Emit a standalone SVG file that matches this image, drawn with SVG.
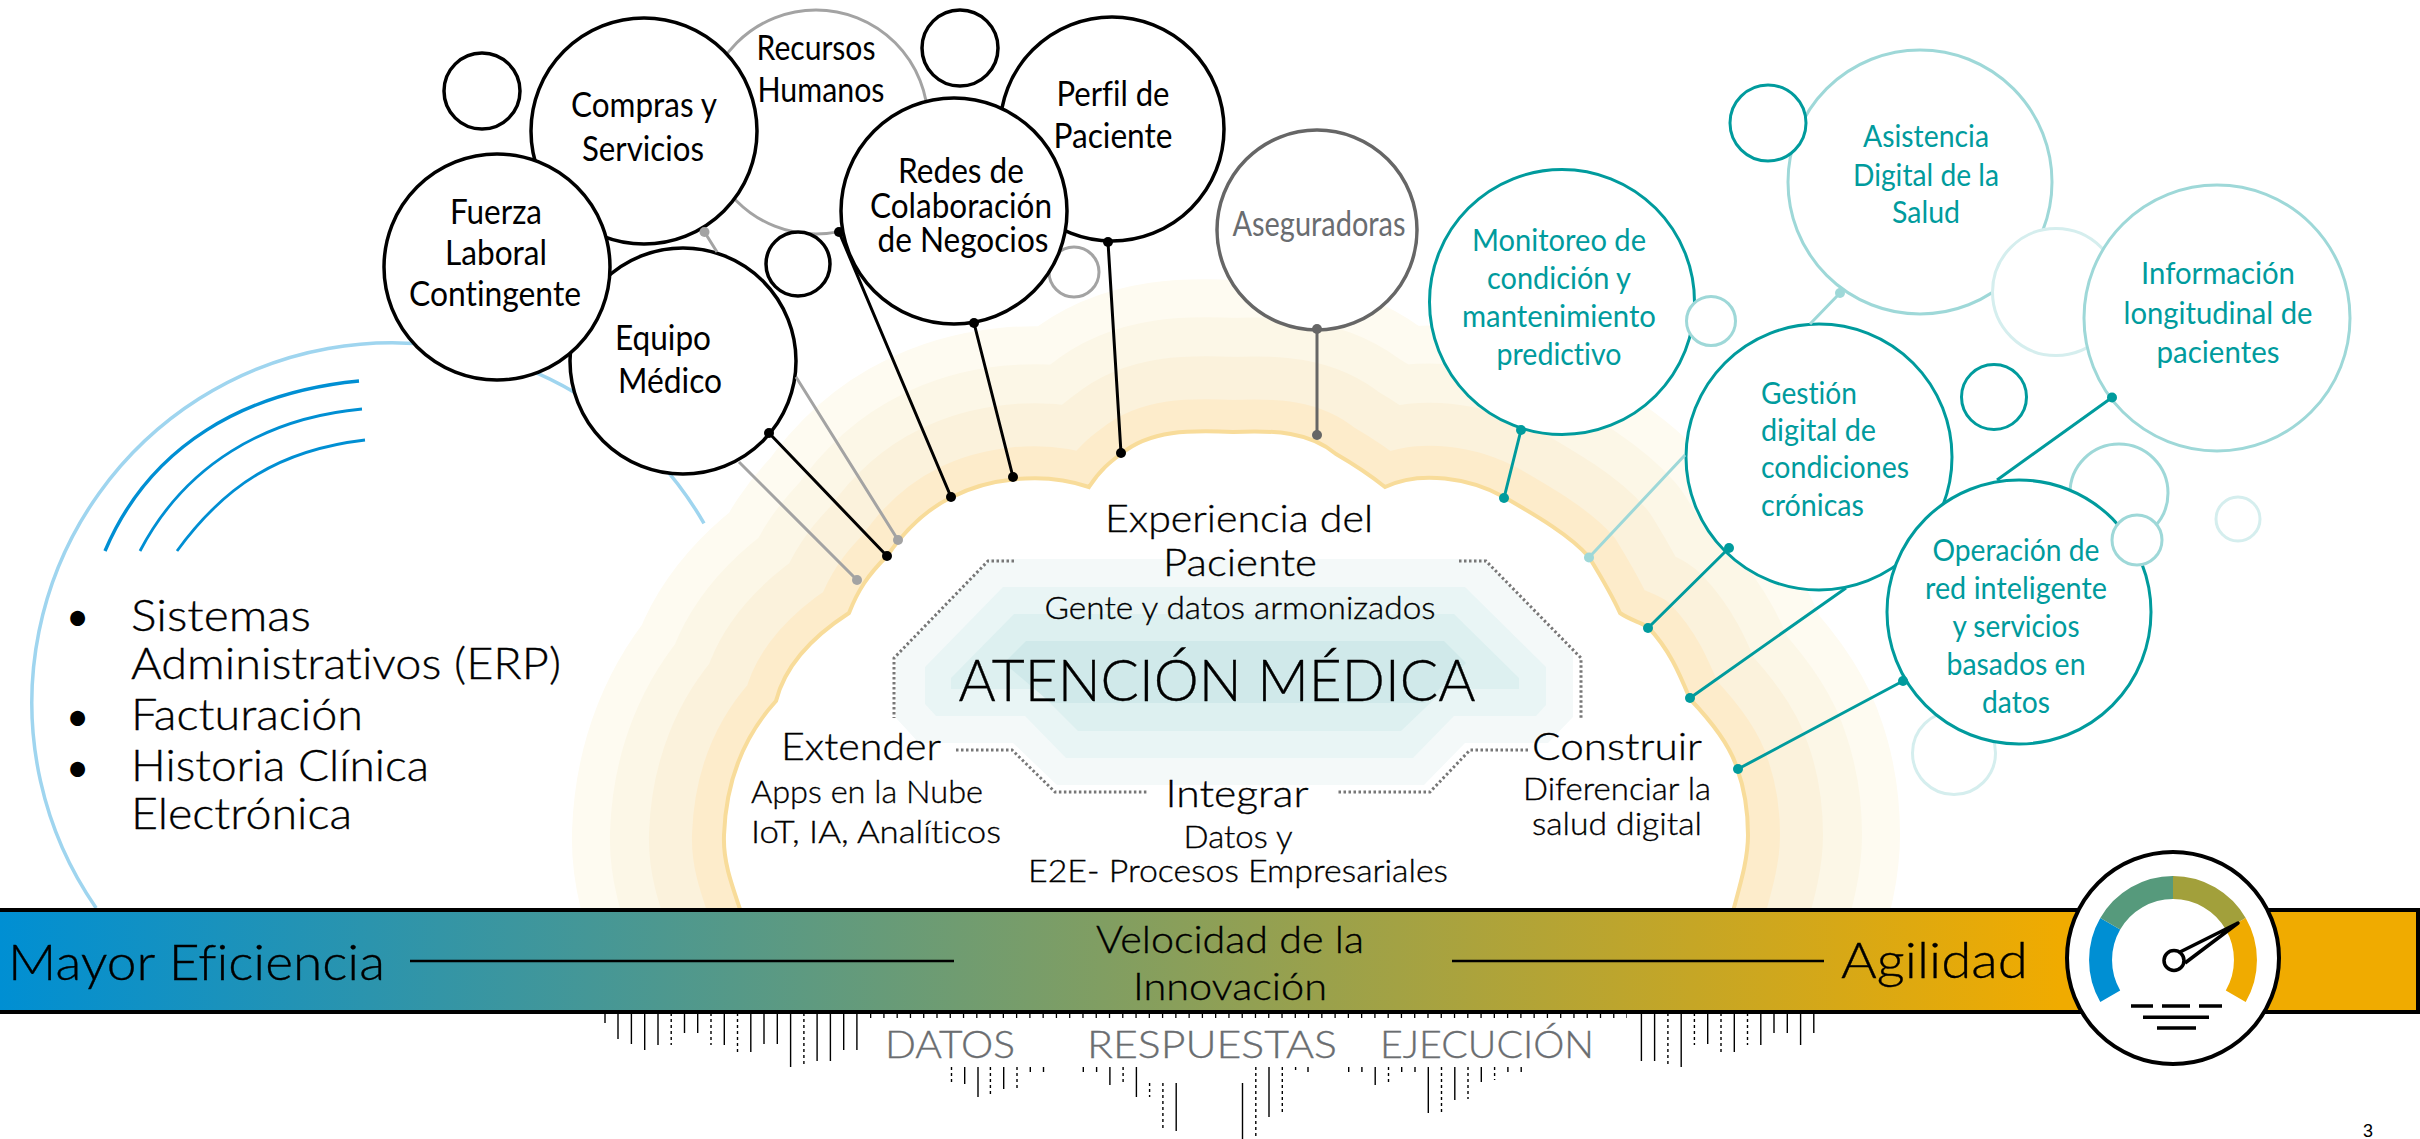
<svg xmlns="http://www.w3.org/2000/svg" width="2420" height="1139" viewBox="0 0 2420 1139">
<style>
text{font-family:"Lato","Noto Sans",sans-serif;font-weight:400;fill:#000;font-variant-ligatures:none}
.m{text-anchor:middle}
.n{font-size:34px}
.t{font-size:31px;fill:#009b9d}
.c{font-size:38px;font-weight:300;stroke:#000;stroke-width:.35}
.s{font-size:31px;font-weight:300;stroke:#000;stroke-width:.35}
.b{font-size:43px;font-weight:300;stroke:#000;stroke-width:.35}
.h{font-weight:300;stroke:#000;stroke-width:.35}
.k{fill:#fff;stroke:#000;stroke-width:3.5}
.g{fill:#fff;stroke:#a3a3a3;stroke-width:3}
.d{fill:#fff;stroke:#009b9d;stroke-width:3}
.l{fill:#fff;stroke:#9ed8d8;stroke-width:3}
.p{fill:#fff;stroke:#d5eeee;stroke-width:3}
.bar{fill:none;stroke:#000;stroke-width:1.4}
.dash{stroke-dasharray:3 3}
.dot{fill:none;stroke:#777;stroke-width:3;stroke-dasharray:2.5 2.5}
.band{fill:none;stroke-linejoin:round}
</style>
<defs>
<linearGradient id="barGrad" gradientUnits="userSpaceOnUse" x1="0" y1="0" x2="2060" y2="0"><stop offset="0" stop-color="#008fd3"/><stop offset="1" stop-color="#f0ab00"/></linearGradient>
<clipPath id="aboveBar"><rect x="0" y="0" width="2420" height="909"/></clipPath>
<path id="cloud" d="M742 915C730 880 723 860 724 835C726 780 745 735 776 701C785 665 815 635 849 613C858 590 868 575 887 556C905 530 925 510 952 497C985 480 1040 470 1089 487C1100 470 1110 462 1121 454C1150 430 1190 430 1233 432C1275 430 1310 432 1336 454C1355 465 1370 475 1385 487C1420 470 1470 478 1504 497C1535 515 1570 535 1589 557C1600 575 1612 595 1620 613C1630 620 1640 622 1648 627C1670 650 1680 675 1690 699C1710 720 1730 745 1737 768C1745 790 1748 815 1748 835C1748 860 1740 885 1732 915"/>
</defs>
<g id="legacy-arc">
<path d="M96.1 908A360 360 0 1 1 704 523.4" fill="none" stroke="#9fd5ef" stroke-width="3.5"/>
<g fill="none" stroke="#008fd3">
<path d="M105 551C150 445 245 392 359 381" stroke-width="3.4"/>
<path d="M140 551C185 465 265 418 362 409" stroke-width="2.8"/>
<path d="M177 551C225 485 280 450 365 440" stroke-width="2.8"/>
</g>
</g>
<g id="legacy-list">
<text x="66" y="631" style="font-size:40px">•</text>
<text x="66" y="731" style="font-size:40px">•</text>
<text x="66" y="782" style="font-size:40px">•</text>
<text class="b" x="131" y="631" textLength="180" lengthAdjust="spacingAndGlyphs">Sistemas</text>
<text class="b" x="131" y="679" textLength="430" lengthAdjust="spacingAndGlyphs">Administrativos (ERP)</text>
<text class="b" x="131" y="730" textLength="232" lengthAdjust="spacingAndGlyphs">Facturación</text>
<text class="b" x="131" y="781" textLength="298" lengthAdjust="spacingAndGlyphs">Historia Clínica</text>
<text class="b" x="131" y="829" textLength="221" lengthAdjust="spacingAndGlyphs">Electrónica</text>
</g>
<g id="cloud-bands" clip-path="url(#aboveBar)">
<use href="#cloud" class="band" stroke="#fefbf1" stroke-width="304"/>
<use href="#cloud" class="band" stroke="#fcf7e7" stroke-width="228"/>
<use href="#cloud" class="band" stroke="#fbf2dc" stroke-width="150"/>
<use href="#cloud" class="band" stroke="#fdeccb" stroke-width="64"/>
<use href="#cloud" fill="#fff" stroke="#f8dc9a" stroke-width="4"/>
</g>
<g id="core">
<polygon fill="#f4f9f9" points="990,559 1484,559 1573,653 1573,717 1548,743 1465,743 1424,785 1057,785 1013,743 919,743 896,718 896,657"/>
<polygon fill="#e9f5f5" points="1003,587 1465,587 1546,667 1546,705 1536,716 1454,716 1413,758 1066,758 1025,716 936,716 925,704 925,667"/>
<polygon fill="#ddf0f0" points="1014,614 1454,614 1519,678 1519,689 1445,689 1401,731 1078,731 1036,689 951,689 951,678"/>
<polygon fill="#d0e9ea" points="1026,641 1444,641 1466,663 1425,703 1051,703 1004,663"/>
<g class="dotted">
<path class="dot" d="M1014 561H988L894 658V718"/>
<path class="dot" d="M1459 561H1486L1581 658V718"/>
<path class="dot" d="M956 750H1012L1055 792H1148"/>
<path class="dot" d="M1528 750H1470L1430 792H1336"/>
</g>
<text class="c m" x="1239" y="532" textLength="268" lengthAdjust="spacingAndGlyphs">Experiencia del</text>
<text class="c m" x="1240" y="576" textLength="154" lengthAdjust="spacingAndGlyphs">Paciente</text>
<text class="s m" x="1240" y="619" textLength="391" lengthAdjust="spacingAndGlyphs">Gente y datos armonizados</text>
<text class="m h" x="1217" y="701" style="font-size:58px" textLength="517" lengthAdjust="spacingAndGlyphs">ATENCIÓN MÉDICA</text>
<text class="c m" x="861" y="760" textLength="160" lengthAdjust="spacingAndGlyphs">Extender</text>
<text class="s" x="751" y="803" textLength="232" lengthAdjust="spacingAndGlyphs">Apps en la Nube</text>
<text class="s" x="751" y="843" textLength="250" lengthAdjust="spacingAndGlyphs">IoT, IA, Analíticos</text>
<text class="c m" x="1237" y="807" textLength="143" lengthAdjust="spacingAndGlyphs">Integrar</text>
<text class="s m" x="1238" y="848" textLength="109" lengthAdjust="spacingAndGlyphs">Datos y</text>
<text class="s m" x="1238" y="882" textLength="420" lengthAdjust="spacingAndGlyphs">E2E- Procesos Empresariales</text>
<text class="c m" x="1617" y="760" textLength="170" lengthAdjust="spacingAndGlyphs">Construir</text>
<text class="s m" x="1617" y="800" textLength="188" lengthAdjust="spacingAndGlyphs">Diferenciar la</text>
<text class="s m" x="1617" y="835" textLength="170" lengthAdjust="spacingAndGlyphs">salud digital</text>
</g>
<g id="node-recursos"><circle class="g" cx="816" cy="122" r="112"/><text class="n m" x="816" y="60" textLength="119" lengthAdjust="spacingAndGlyphs">Recursos</text><text class="n m" x="821" y="102" textLength="127" lengthAdjust="spacingAndGlyphs">Humanos</text></g>
<g id="node-small-a"><circle class="k" cx="482" cy="91" r="38"/></g>
<g id="node-small-b"><circle class="k" cx="960" cy="48" r="38"/></g>
<g id="node-compras"><circle class="k" cx="644" cy="131" r="113"/><text class="n m" x="644" y="117" textLength="146" lengthAdjust="spacingAndGlyphs">Compras y</text><text class="n m" x="643" y="161" textLength="122" lengthAdjust="spacingAndGlyphs">Servicios</text></g>
<g id="node-equipo"><circle class="k" cx="683" cy="361" r="113"/><text class="n m" x="663" y="350" textLength="96" lengthAdjust="spacingAndGlyphs">Equipo</text><text class="n m" x="670" y="393" textLength="104" lengthAdjust="spacingAndGlyphs">Médico</text></g>
<g id="node-fuerza"><circle class="k" cx="497" cy="267" r="113"/><text class="n m" x="496" y="224" textLength="92" lengthAdjust="spacingAndGlyphs">Fuerza</text><text class="n m" x="496" y="265" textLength="102" lengthAdjust="spacingAndGlyphs">Laboral</text><text class="n m" x="495" y="306" textLength="172" lengthAdjust="spacingAndGlyphs">Contingente</text></g>
<g id="node-small-c"><circle class="k" cx="798" cy="264" r="32"/></g>
<g id="node-perfil"><circle class="k" cx="1112" cy="129" r="112"/><text class="n m" x="1113" y="106" textLength="113" lengthAdjust="spacingAndGlyphs">Perfil de</text><text class="n m" x="1113" y="148" textLength="119" lengthAdjust="spacingAndGlyphs">Paciente</text></g>
<g id="node-small-d"><circle class="g" cx="1074" cy="272" r="25"/></g>
<g id="node-redes"><circle class="k" cx="954" cy="211" r="113"/><text class="n m" x="961" y="183" textLength="126" lengthAdjust="spacingAndGlyphs">Redes de</text><text class="n m" x="961" y="218" textLength="182" lengthAdjust="spacingAndGlyphs">Colaboración</text><text class="n m" x="963" y="252" textLength="171" lengthAdjust="spacingAndGlyphs">de Negocios</text></g>
<g id="node-aseguradoras"><circle cx="1317" cy="230" r="100" fill="#fff" stroke="#666" stroke-width="3.5"/><text class="n m" x="1319" y="236" style="fill:#6a6d70" textLength="173" lengthAdjust="spacingAndGlyphs">Aseguradoras</text></g>
<g id="node-pale-a"><circle class="p" cx="1954" cy="753" r="41.5"/></g>
<g id="node-pale-b"><circle class="l" cx="2119" cy="493" r="49"/></g>
<g id="node-pale-c"><circle class="p" cx="2238" cy="519" r="22"/></g>
<g id="node-asistencia"><circle class="l" cx="1920" cy="182" r="132"/><text class="t m" x="1926" y="147" textLength="126" lengthAdjust="spacingAndGlyphs">Asistencia</text><text class="t m" x="1926" y="186" textLength="146" lengthAdjust="spacingAndGlyphs">Digital de la</text><text class="t m" x="1926" y="223" textLength="68" lengthAdjust="spacingAndGlyphs">Salud</text></g>
<g id="node-small-e"><circle class="d" cx="1768" cy="123" r="38"/></g>
<g id="node-pale-d"><circle class="p" cx="2056" cy="292" r="63.5"/></g>
<g id="node-informacion"><circle class="l" cx="2217" cy="318" r="133"/><text class="t m" x="2218" y="284" textLength="154" lengthAdjust="spacingAndGlyphs">Información</text><text class="t m" x="2218" y="324" textLength="189" lengthAdjust="spacingAndGlyphs">longitudinal de</text><text class="t m" x="2218" y="363" textLength="123" lengthAdjust="spacingAndGlyphs">pacientes</text></g>
<g id="node-monitoreo"><circle class="d" cx="1562" cy="302" r="132.5"/><text class="t m" x="1559" y="251" textLength="174" lengthAdjust="spacingAndGlyphs">Monitoreo de</text><text class="t m" x="1559" y="289" textLength="144" lengthAdjust="spacingAndGlyphs">condición y</text><text class="t m" x="1559" y="327" textLength="194" lengthAdjust="spacingAndGlyphs">mantenimiento</text><text class="t m" x="1559" y="365" textLength="125" lengthAdjust="spacingAndGlyphs">predictivo</text></g>
<g id="node-small-f"><circle class="l" cx="1711" cy="321" r="24.5"/></g>
<g id="node-gestion"><circle class="d" cx="1819" cy="457" r="133"/><text class="t" x="1761" y="404" textLength="96" lengthAdjust="spacingAndGlyphs">Gestión</text><text class="t" x="1761" y="441" textLength="115" lengthAdjust="spacingAndGlyphs">digital de</text><text class="t" x="1761" y="478" textLength="148" lengthAdjust="spacingAndGlyphs">condiciones</text><text class="t" x="1761" y="516" textLength="103" lengthAdjust="spacingAndGlyphs">crónicas</text></g>
<g id="node-small-g"><circle class="d" cx="1994" cy="397" r="32.5"/></g>
<g id="node-operacion"><circle class="d" cx="2019" cy="612" r="132"/><text class="t m" x="2016" y="561" textLength="167" lengthAdjust="spacingAndGlyphs">Operación de</text><text class="t m" x="2016" y="599" textLength="182" lengthAdjust="spacingAndGlyphs">red inteligente</text><text class="t m" x="2016" y="637" textLength="127" lengthAdjust="spacingAndGlyphs">y servicios</text><text class="t m" x="2016" y="675" textLength="139" lengthAdjust="spacingAndGlyphs">basados en</text><text class="t m" x="2016" y="713" textLength="68" lengthAdjust="spacingAndGlyphs">datos</text></g>
<g id="node-small-h"><circle class="l" cx="2137" cy="540" r="25"/></g>
<g id="connectors" fill="none" stroke-width="3">
<g stroke="#a3a3a3"><path d="M704.5 232L717 252M796 377L898 540M739 462L857 580"/></g>
<g fill="#a3a3a3"><circle cx="704.5" cy="232" r="5"/><circle cx="898" cy="540" r="5"/><circle cx="857" cy="580" r="5"/></g>
<g stroke="#000"><path d="M1108 242L1121 453M974 323L1013 477M839 232L951 497M769 433L887 556"/></g>
<g fill="#000"><circle cx="1108" cy="242" r="5"/><circle cx="1121" cy="453" r="5"/><circle cx="974" cy="323" r="5"/><circle cx="1013" cy="477" r="5"/><circle cx="839" cy="232" r="5"/><circle cx="951" cy="497" r="5"/><circle cx="769" cy="433" r="5"/><circle cx="887" cy="556" r="5"/></g>
<path d="M1317 329V435" stroke="#666"/>
<g fill="#666"><circle cx="1317" cy="329" r="5"/><circle cx="1317" cy="435" r="5"/></g>
<path d="M1840 293L1810 324M1685 455L1589 557.5" stroke="#9ed8d8"/>
<g fill="#9ed8d8"><circle cx="1840" cy="293" r="5"/><circle cx="1589" cy="557.5" r="5"/></g>
<path d="M1521 430L1504 498M1729 548L1648 628M2112 397.5L1997 480M1846 588L1690 698M1903 681L1738 769" stroke="#009b9d"/>
<g fill="#009b9d"><circle cx="1521" cy="430" r="5"/><circle cx="1504" cy="498" r="5"/><circle cx="1729" cy="548" r="5"/><circle cx="1648" cy="628" r="5"/><circle cx="2112" cy="397.5" r="5"/><circle cx="1690" cy="698" r="5"/><circle cx="1903" cy="681" r="5"/><circle cx="1738" cy="769" r="5"/></g>
</g>
<g id="speed-bar">
<rect x="-4" y="910" width="2422" height="102" fill="url(#barGrad)" stroke="#000" stroke-width="4"/>
<path d="M410 961H954M1452 961H1824" stroke="#000" stroke-width="2.5"/>
<text class="h" x="8" y="980" style="font-size:50px" textLength="377" lengthAdjust="spacingAndGlyphs">Mayor Eficiencia</text>
<text class="m h" x="1230" y="953" style="font-size:37px" textLength="268" lengthAdjust="spacingAndGlyphs">Velocidad de la</text>
<text class="m h" x="1230" y="1000" style="font-size:37px" textLength="194" lengthAdjust="spacingAndGlyphs">Innovación</text>
<text class="h" x="1841" y="978" style="font-size:50px" textLength="187" lengthAdjust="spacingAndGlyphs">Agilidad</text>
</g>
<g id="gauge">
<circle cx="2173" cy="958" r="106" fill="#fff" stroke="#000" stroke-width="4"/>
<path d="M2100.3 1002A84 84 0 0 1 2100.3 918L2120.2 929.5A61 61 0 0 0 2120.2 990.5Z" fill="#008fd3"/>
<path d="M2100.3 918A84 84 0 0 1 2173 876V899A61 61 0 0 0 2120.2 929.5Z" fill="#569a7c"/>
<path d="M2173 876A84 84 0 0 1 2245.7 918L2225.8 929.5A61 61 0 0 0 2173 899Z" fill="#a2a03b"/>
<path d="M2245.7 918A84 84 0 0 1 2245.7 1002L2225.8 990.5A61 61 0 0 0 2225.8 929.5Z" fill="#f0ab00"/>
<path d="M2180 952L2238 923L2185 963" fill="#fff" stroke="#000" stroke-width="3.5" stroke-linejoin="round"/>
<circle cx="2174" cy="960.5" r="10" fill="#fff" stroke="#000" stroke-width="3.5"/>
<path d="M2131 1006H2153M2162 1006H2190M2199 1006H2222M2143 1017.3H2209M2157 1028H2196" stroke="#000" stroke-width="3.5"/>
</g>
<g id="pulse">
<path class="bar" d="M605 1013V1023M618 1013V1039M631.4 1013V1044M644.7 1013V1050M658 1013V1045M684.5 1013V1033M697.7 1013V1033M724.3 1013V1045M750.8 1013V1052M764 1013V1044M777.3 1013V1044M790.6 1013V1067M817.1 1013V1061M830.4 1013V1061M843.7 1013V1050M856.9 1013V1050"/>
<path class="bar dash" d="M671.2 1013V1045M711 1013V1045M737.5 1013V1052M803.9 1013V1067"/>
<line x1="870" y1="1015.5" x2="1627" y2="1015.5" stroke="#000" stroke-width="5" stroke-dasharray="1.3 11.97"/>
<path class="bar" d="M1641.4 1013V1061M1654.6 1013V1061M1681.2 1013V1067M1707.7 1013V1044M1734.3 1013V1052M1760.8 1013V1045M1774 1013V1033M1787.3 1013V1033M1800.6 1013V1045M1813.8 1013V1033"/>
<path class="bar dash" d="M1667.9 1013V1067M1694.4 1013V1045M1721 1013V1052M1747.5 1013V1045"/>
<path class="bar" d="M964.7 1067V1084M978 1067V1097M1003.7 1067V1089M1030.3 1067V1072M1043.5 1067V1072M1083.3 1067V1072M1096.6 1067V1072M1109.9 1067V1085M1136.4 1067V1097M1176.2 1083V1131M1242.5 1083V1139M1269 1067V1117M1308 1067V1072M1348.7 1067V1072M1361.9 1067V1072M1375.2 1067V1085M1401.7 1067V1072M1415 1067V1072M1428.3 1067V1113M1454.8 1067V1100M1481.3 1067V1082M1507.9 1067V1072M1521.2 1067V1072"/>
<path class="bar dash" d="M951.5 1067V1084M990.4 1067V1096M1017 1067V1088M1123.1 1067V1084M1149.6 1083V1097M1162.9 1083V1131M1255.8 1067V1137M1282.3 1067V1115M1295.6 1067V1072M1388.5 1067V1084M1441.5 1067V1113M1468 1067V1099M1494.6 1067V1080"/>
<text class="h" x="885" y="1058" style="font-size:37px;fill:#6a6d70;stroke:#6a6d70" textLength="130" lengthAdjust="spacingAndGlyphs">DATOS</text>
<text class="h" x="1087" y="1058" style="font-size:37px;fill:#6a6d70;stroke:#6a6d70" textLength="250" lengthAdjust="spacingAndGlyphs">RESPUESTAS</text>
<text class="h" x="1380" y="1058" style="font-size:37px;fill:#6a6d70;stroke:#6a6d70" textLength="214" lengthAdjust="spacingAndGlyphs">EJECUCIÓN</text>
</g>
<text x="2368" y="1137" text-anchor="middle" style="font-family:'Liberation Sans',sans-serif;font-size:18px">3</text>
</svg>
